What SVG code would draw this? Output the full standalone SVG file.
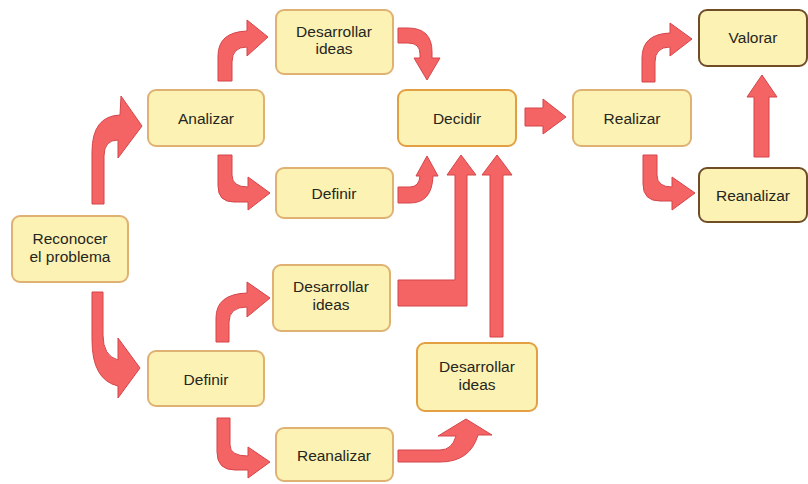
<svg xmlns="http://www.w3.org/2000/svg" width="808" height="484" viewBox="0 0 808 484">
  <style>
    .box { fill: #fcf2b3; stroke: #dfb274; stroke-width: 2; }
    .box.hot { stroke: #e3a043; }
    .box.dark { stroke: #6e4d27; }
    .lbl { font-family: "Liberation Sans", Arial, sans-serif; font-size: 15.5px; fill: #262620; text-anchor: middle; }
    .arrow { fill: #f46464; stroke: #d4454a; stroke-width: 1; stroke-linejoin: round; }
  </style>
  <rect width="808" height="484" fill="#ffffff"/>

  <!-- connectors: red block arrows -->
  <g id="connectors">
    <path class="arrow" d="M 92 204 L 92 152 Q 92 116 120 115 L 121 96 L 142 126 L 118 158 L 118 140 Q 104 140 104 156 L 104 204 Z"/>
    <path class="arrow" d="M 218 81 L 218 56 Q 218 32 247 31 L 247 20 L 268 37 L 247 56 L 247 47 Q 232 47 232 62 L 232 81 Z"/>
    <path class="arrow" d="M 218 155 L 218 186 Q 218 202 234 202 L 248 202 L 248 210 L 270 193 L 248 177 L 248 187 Q 232 187 232 175 L 232 155 Z"/>
    <path class="arrow" d="M 398 28 L 408 28 Q 432 28 432 52 L 432 58 L 440 58 L 427 80 L 414 58 L 420 58 L 420 54 Q 420 43 408 43 L 398 43 Z"/>
    <path class="arrow" d="M 398 187 L 410 187 Q 419 187 420 176 L 416 176 L 427 156 L 438 176 L 433 176 Q 432 203 410 203 L 398 203 Z"/>
    <path class="arrow" d="M 398 280 L 455 280 L 455 175 L 447 175 L 461 155 L 476 175 L 467 175 L 467 306 L 398 306 Z"/>
    <path class="arrow" d="M 490 337 L 490 175 L 482 175 L 497 155 L 512 175 L 503 175 L 503 337 Z"/>
    <path class="arrow" d="M 525 108 L 543 108 L 543 99 L 566 117 L 543 134 L 543 126 L 525 126 Z"/>
    <path class="arrow" d="M 642 82 L 642 58 Q 642 34 670 33 L 670 23 L 692 39 L 670 56 L 670 47 Q 655 47 655 62 L 655 82 Z"/>
    <path class="arrow" d="M 643 155 L 643 184 Q 643 201 660 201 L 672 201 L 672 210 L 695 193 L 672 177 L 672 187 Q 657 187 657 175 L 657 155 Z"/>
    <path class="arrow" d="M 754 157 L 754 97 L 747 97 L 762 75 L 777 97 L 769 97 L 769 157 Z"/>
    <path class="arrow" d="M 92 292 L 92 340 Q 92 380 118 386 L 118 398 L 140 368 L 118 338 L 118 360 Q 103 356 103 335 L 103 292 Z"/>
    <path class="arrow" d="M 216 342 L 216 318 Q 216 294 247 293 L 247 282 L 270 298 L 247 317 L 247 307 Q 229 307 229 322 L 229 342 Z"/>
    <path class="arrow" d="M 217 418 L 217 452 Q 217 470 235 470 L 248 470 L 248 478 L 270 462 L 248 447 L 248 456 Q 230 456 230 445 L 230 418 Z"/>
    <path class="arrow" d="M 398 450 L 440 450 Q 452 450 456 436 L 438 436 L 466 419 L 492 435 L 478 435 Q 470 462 440 462 L 398 462 Z"/>
  </g>

  <!-- process steps -->
  <g id="reconocer">
    <rect class="box" x="12" y="216" width="116" height="66" rx="8"/>
    <text class="lbl" x="70" y="244">Reconocer</text>
    <text class="lbl" x="70" y="262">el problema</text>
  </g>
  <g id="analizar">
    <rect class="box" x="148" y="90" width="116" height="56" rx="8"/>
    <text class="lbl" x="206" y="124">Analizar</text>
  </g>
  <g id="desarrollar-1">
    <rect class="box" x="276" y="10" width="117" height="64" rx="8"/>
    <text class="lbl" x="334" y="37">Desarrollar</text>
    <text class="lbl" x="334" y="54">ideas</text>
  </g>
  <g id="definir-1">
    <rect class="box" x="276" y="168" width="117" height="50" rx="8"/>
    <text class="lbl" x="334" y="199">Definir</text>
  </g>
  <g id="decidir">
    <rect class="box hot" x="398" y="90" width="118" height="56" rx="8"/>
    <text class="lbl" x="457" y="124">Decidir</text>
  </g>
  <g id="realizar">
    <rect class="box" x="573" y="90" width="118" height="56" rx="8"/>
    <text class="lbl" x="632" y="124">Realizar</text>
  </g>
  <g id="valorar">
    <rect class="box dark" x="699" y="10" width="108" height="56" rx="8"/>
    <text class="lbl" x="753" y="43">Valorar</text>
  </g>
  <g id="reanalizar-1">
    <rect class="box dark" x="699" y="168" width="108" height="54" rx="8"/>
    <text class="lbl" x="753" y="201">Reanalizar</text>
  </g>
  <g id="desarrollar-2">
    <rect class="box" x="273" y="265" width="117" height="66" rx="8"/>
    <text class="lbl" x="331" y="292">Desarrollar</text>
    <text class="lbl" x="331" y="310">ideas</text>
  </g>
  <g id="definir-2">
    <rect class="box" x="148" y="351" width="116" height="55" rx="8"/>
    <text class="lbl" x="206" y="385">Definir</text>
  </g>
  <g id="reanalizar-2">
    <rect class="box" x="276" y="428" width="117" height="53" rx="8"/>
    <text class="lbl" x="334" y="461">Reanalizar</text>
  </g>
  <g id="desarrollar-3">
    <rect class="box hot" x="417" y="343" width="120" height="68" rx="8"/>
    <text class="lbl" x="477" y="372">Desarrollar</text>
    <text class="lbl" x="477" y="390">ideas</text>
  </g>
</svg>
